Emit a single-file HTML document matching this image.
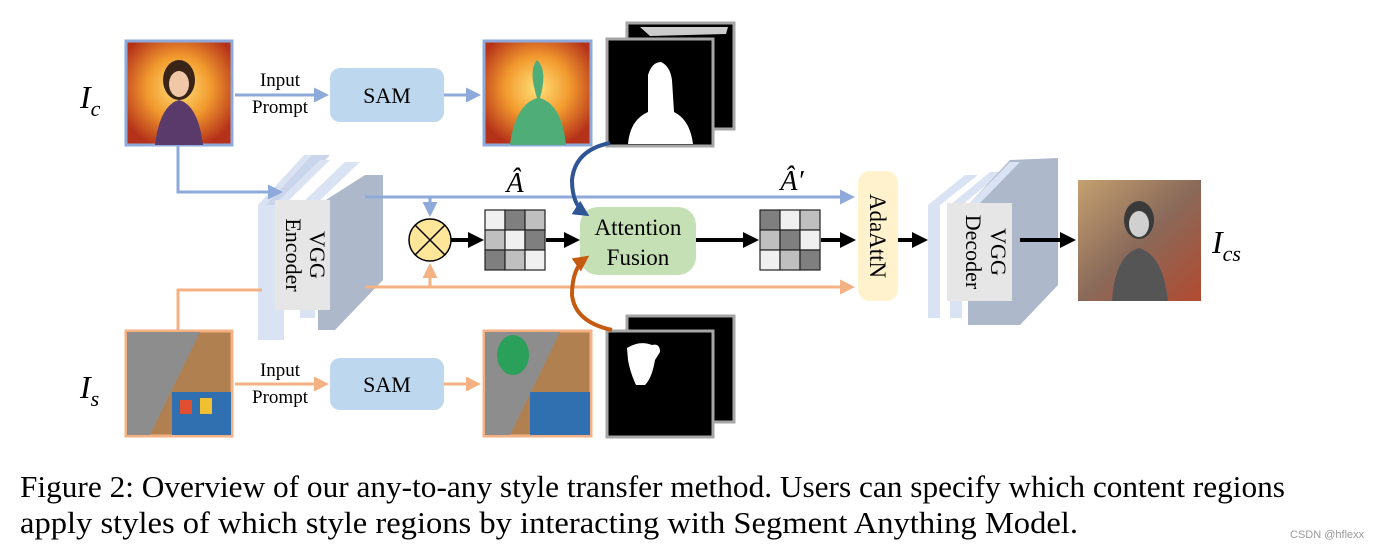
<!DOCTYPE html>
<html><head><meta charset="utf-8"><style>
html,body{margin:0;padding:0;background:#fff;}
svg{display:block;}
.s{font-family:"Liberation Serif",serif;}
</style></head><body>
<svg width="1378" height="548" viewBox="0 0 1378 548" xmlns="http://www.w3.org/2000/svg">
<defs>
<marker id="ab" markerWidth="5" markerHeight="5" refX="4" refY="2.5" orient="auto" markerUnits="strokeWidth"><path d="M0,0 L5,2.5 L0,5 z" fill="#8eaadb"/></marker>
<marker id="ao" markerWidth="5" markerHeight="5" refX="4" refY="2.5" orient="auto" markerUnits="strokeWidth"><path d="M0,0 L5,2.5 L0,5 z" fill="#f4b183"/></marker>
<marker id="ak" markerWidth="4" markerHeight="4" refX="3" refY="2" orient="auto" markerUnits="strokeWidth"><path d="M0,0 L4,2 L0,4 z" fill="#000"/></marker>
<marker id="adb" markerWidth="4" markerHeight="4" refX="3" refY="2" orient="auto" markerUnits="strokeWidth"><path d="M0,0 L4,2 L0,4 z" fill="#2f5597"/></marker>
<marker id="ado" markerWidth="4" markerHeight="4" refX="3" refY="2" orient="auto" markerUnits="strokeWidth"><path d="M0,0 L4,2 L0,4 z" fill="#c55a11"/></marker>
<radialGradient id="fire" cx="50%" cy="45%" r="60%"><stop offset="0" stop-color="#ffe27a"/><stop offset="0.5" stop-color="#f29a2e"/><stop offset="1" stop-color="#b5321a"/></radialGradient>
<linearGradient id="out" x1="0" y1="0" x2="1" y2="1"><stop offset="0" stop-color="#c5a070"/><stop offset="0.5" stop-color="#8a6a5a"/><stop offset="1" stop-color="#b24a30"/></linearGradient>
</defs>

<text x="80" y="108" class="s" font-size="32" font-style="italic">I<tspan font-size="22" dy="8">c</tspan></text>
<text x="80" y="398" class="s" font-size="32" font-style="italic">I<tspan font-size="22" dy="8">s</tspan></text>
<text x="1212" y="253" class="s" font-size="32" font-style="italic">I<tspan font-size="22" dy="8">cs</tspan></text>

<rect x="126" y="41" width="106" height="104" fill="url(#fire)" stroke="#8eaadb" stroke-width="3"/>
<ellipse cx="179" cy="80" rx="16" ry="20" fill="#3a2418"/>
<ellipse cx="179" cy="84" rx="10" ry="13" fill="#f0c8a8"/>
<path d="M155,145 Q160,105 179,100 Q198,105 203,145z" fill="#5a3a6a"/>
<rect x="126" y="331" width="106" height="105" fill="#b08050" stroke="#f4b183" stroke-width="3"/>
<path d="M127,332 L200,332 L150,435 L127,435z" fill="#8d8d8d"/>
<rect x="172" y="392" width="59" height="43" fill="#3070b0"/>
<rect x="180" y="400" width="12" height="14" fill="#e05030"/><rect x="200" y="398" width="12" height="16" fill="#f0c030"/>

<text x="280" y="86" class="s" font-size="19" text-anchor="middle">Input</text>
<text x="280" y="113" class="s" font-size="19" text-anchor="middle">Prompt</text>
<text x="280" y="376" class="s" font-size="19" text-anchor="middle">Input</text>
<text x="280" y="403" class="s" font-size="19" text-anchor="middle">Prompt</text>
<line x1="235" y1="95" x2="326" y2="95" stroke="#8eaadb" stroke-width="3" marker-end="url(#ab)"/>
<line x1="235" y1="384" x2="326" y2="384" stroke="#f4b183" stroke-width="3" marker-end="url(#ao)"/>
<rect x="330" y="68" width="114" height="54" rx="10" fill="#bdd7ee"/>
<text x="387" y="103" class="s" font-size="22" text-anchor="middle">SAM</text>
<rect x="330" y="358" width="114" height="52" rx="10" fill="#bdd7ee"/>
<text x="387" y="392" class="s" font-size="22" text-anchor="middle">SAM</text>
<line x1="444" y1="95" x2="478" y2="95" stroke="#8eaadb" stroke-width="3" marker-end="url(#ab)"/>
<line x1="444" y1="384" x2="478" y2="384" stroke="#f4b183" stroke-width="3" marker-end="url(#ao)"/>

<rect x="484" y="41" width="107" height="104" fill="url(#fire)" stroke="#8eaadb" stroke-width="3"/>
<path d="M510,145 Q515,105 537,98 Q528,70 537,60 Q548,70 540,98 Q562,105 566,145z" fill="#4fae78"/>
<rect x="484" y="331" width="107" height="105" fill="#b08050" stroke="#f4b183" stroke-width="3"/>
<path d="M485,332 L560,332 L510,435 L485,435z" fill="#8d8d8d"/>
<ellipse cx="513" cy="355" rx="16" ry="20" fill="#2aa05a"/>
<rect x="530" y="392" width="60" height="43" fill="#3070b0"/>

<rect x="627" y="23" width="107" height="106" fill="#000" stroke="#a6a6a6" stroke-width="3"/>
<path d="M640,27 L728,27 L726,34 L650,36z" fill="#ccc"/>
<rect x="607" y="39" width="106" height="107" fill="#000" stroke="#a6a6a6" stroke-width="3"/>
<path d="M628,144 Q630,120 648,112 L648,75 Q652,62 661,62 Q670,66 672,80 L674,112 Q690,120 693,144z" fill="#fff"/>
<rect x="627" y="316" width="107" height="106" fill="#000" stroke="#a6a6a6" stroke-width="3"/>
<rect x="607" y="331" width="106" height="106" fill="#000" stroke="#a6a6a6" stroke-width="3"/>
<path d="M627,348 Q640,340 652,345 Q660,343 660,352 L655,360 Q652,378 645,385 L636,385 Q630,372 628,360z" fill="#fff"/>

<g>
<polygon points="258,205 304,155 320,155 274,205" fill="#dae3f3"/>
<polygon points="258,205 274,205 274,340 258,340" fill="#dae3f3"/>
<polygon points="266,205 312,155 330,155 282,205" fill="#c9d5ea"/>
<polygon points="274,205 320,160 330,160 284,205 284,340 274,340" fill="#dae3f3"/>
<polygon points="300,205 345,162 360,162 315,205 315,318 300,318" fill="#dae3f3"/>
<polygon points="318,205 365,175 383,175 383,280 335,330 318,330" fill="#adb9ca"/>
<rect x="275" y="200" width="55" height="110" fill="#e7e6e6"/>
<text transform="translate(308,255) rotate(90)" class="s" font-size="22" text-anchor="middle" dy="-2">VGG</text>
<text transform="translate(284,255) rotate(90)" class="s" font-size="22" text-anchor="middle" dy="-2">Encoder</text>
</g>

<g>
<polygon points="928,205 965,175 978,175 940,205 940,318 928,318" fill="#dae3f3"/>
<polygon points="950,205 990,172 1002,172 962,205 962,318 950,318" fill="#dae3f3"/>
<polygon points="968,205 1010,160 1058,158 1058,285 1020,325 968,325" fill="#adb9ca"/>
<polygon points="968,205 1010,162 1020,162 978,205" fill="#dae3f3"/>
<rect x="947" y="203" width="65" height="98" fill="#e7e6e6"/>
<text transform="translate(989,252) rotate(90)" class="s" font-size="22" text-anchor="middle" dy="-2">VGG</text>
<text transform="translate(964,252) rotate(90)" class="s" font-size="22" text-anchor="middle" dy="-2">Decoder</text>
</g>

<polyline points="178,146 178,192 280,192" fill="none" stroke="#8eaadb" stroke-width="3" marker-end="url(#ab)"/>
<polyline points="178,330 178,290 262,290" fill="none" stroke="#f4b183" stroke-width="3"/>
<line x1="365" y1="197" x2="852" y2="197" stroke="#8eaadb" stroke-width="3" marker-end="url(#ab)"/>
<line x1="365" y1="287" x2="852" y2="287" stroke="#f4b183" stroke-width="3" marker-end="url(#ao)"/>
<line x1="430" y1="197" x2="430" y2="214" stroke="#8eaadb" stroke-width="3" marker-end="url(#ab)"/>
<line x1="430" y1="287" x2="430" y2="266" stroke="#f4b183" stroke-width="3" marker-end="url(#ao)"/>

<text x="515" y="192" class="s" font-size="28" font-style="italic" text-anchor="middle">Â</text>
<text x="792" y="190" class="s" font-size="28" font-style="italic" text-anchor="middle">Â′</text>

<circle cx="430" cy="240" r="21" fill="#ffe699" stroke="#000" stroke-width="1.5"/>
<line x1="415" y1="225" x2="445" y2="255" stroke="#000" stroke-width="1.5"/>
<line x1="445" y1="225" x2="415" y2="255" stroke="#000" stroke-width="1.5"/>
<line x1="451" y1="240" x2="480" y2="240" stroke="#000" stroke-width="4" marker-end="url(#ak)"/>

<g stroke="#222" stroke-width="1.2">
<rect x="485" y="210" width="20" height="20" fill="#f0f0f0"/><rect x="505" y="210" width="20" height="20" fill="#7f7f7f"/><rect x="525" y="210" width="20" height="20" fill="#bfbfbf"/>
<rect x="485" y="230" width="20" height="20" fill="#bfbfbf"/><rect x="505" y="230" width="20" height="20" fill="#f0f0f0"/><rect x="525" y="230" width="20" height="20" fill="#7f7f7f"/>
<rect x="485" y="250" width="20" height="20" fill="#7f7f7f"/><rect x="505" y="250" width="20" height="20" fill="#bfbfbf"/><rect x="525" y="250" width="20" height="20" fill="#f0f0f0"/>
</g>
<line x1="546" y1="240" x2="576" y2="240" stroke="#000" stroke-width="4" marker-end="url(#ak)"/>

<rect x="580" y="207" width="116" height="68" rx="18" fill="#c5e0b4"/>
<text x="638" y="235" class="s" font-size="23" text-anchor="middle">Attention</text>
<text x="638" y="265" class="s" font-size="23" text-anchor="middle">Fusion</text>
<path d="M610,143 Q575,150 572,180 Q572,205 586,214" fill="none" stroke="#2f5597" stroke-width="4" marker-end="url(#adb)"/>
<path d="M612,330 Q575,322 572,295 Q572,268 586,258" fill="none" stroke="#c55a11" stroke-width="4" marker-end="url(#ado)"/>

<line x1="696" y1="240" x2="755" y2="240" stroke="#000" stroke-width="4" marker-end="url(#ak)"/>
<g stroke="#222" stroke-width="1.2">
<rect x="760" y="210" width="20" height="20" fill="#7f7f7f"/><rect x="780" y="210" width="20" height="20" fill="#f0f0f0"/><rect x="800" y="210" width="20" height="20" fill="#bfbfbf"/>
<rect x="760" y="230" width="20" height="20" fill="#bfbfbf"/><rect x="780" y="230" width="20" height="20" fill="#7f7f7f"/><rect x="800" y="230" width="20" height="20" fill="#f0f0f0"/>
<rect x="760" y="250" width="20" height="20" fill="#f0f0f0"/><rect x="780" y="250" width="20" height="20" fill="#bfbfbf"/><rect x="800" y="250" width="20" height="20" fill="#7f7f7f"/>
</g>
<line x1="821" y1="240" x2="852" y2="240" stroke="#000" stroke-width="4" marker-end="url(#ak)"/>

<rect x="858" y="171" width="40" height="130" rx="12" fill="#fff2cc"/>
<text transform="translate(870,236) rotate(90)" class="s" font-size="23" text-anchor="middle">AdaAttN</text>
<line x1="898" y1="240" x2="924" y2="240" stroke="#000" stroke-width="4" marker-end="url(#ak)"/>
<line x1="1020" y1="240" x2="1072" y2="240" stroke="#000" stroke-width="4" marker-end="url(#ak)"/>

<rect x="1078" y="180" width="123" height="121" fill="url(#out)"/>
<ellipse cx="1139" cy="220" rx="15" ry="19" fill="#3a3a3a"/>
<ellipse cx="1139" cy="224" rx="10" ry="13" fill="#d0d0d0"/>
<path d="M1112,301 Q1115,255 1139,248 Q1163,255 1168,301z" fill="#555"/>

<text x="20" y="497" class="s" font-size="31" textLength="1265" lengthAdjust="spacingAndGlyphs">Figure 2: Overview of our any-to-any style transfer method. Users can specify which content regions</text>
<text x="20" y="533" class="s" font-size="31" textLength="1058" lengthAdjust="spacingAndGlyphs">apply styles of which style regions by interacting with Segment Anything Model.</text>
<text x="1290" y="538" font-family="Liberation Sans" font-size="11" fill="#999">CSDN @hflexx</text>
</svg>
</body></html>
